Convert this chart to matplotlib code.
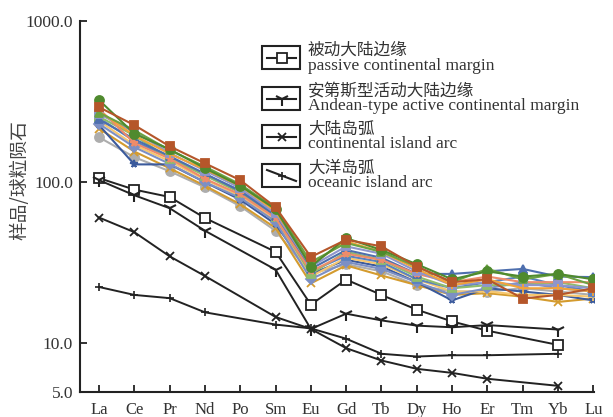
import numpy as np
import matplotlib
matplotlib.use("Agg")
import matplotlib.pyplot as plt
from matplotlib.patches import Rectangle
from matplotlib.lines import Line2D

plt.rcParams['font.family'] = ['Liberation Serif', 'Noto Sans CJK SC']

# 稀土元素 (球粒陨石标准化)
elements = ["La", "Ce", "Pr", "Nd", "Po", "Sm", "Eu", "Gd", "Tb", "Dy", "Ho", "Er", "Tm", "Yb", "Lu"]

# 样品数据
s1 = [292, 226, 167, 131, 103, 70, 34.4, 44, 40, 30, 24, 25, 19, 20, 22]
s2 = [323, 200, 160, 122, 95, 68, 30, 45, 38, 31, 25, 28, 26, 27, 25]
s3 = [245, 185, 145, 113, 88, 62, 29, 38, 34, 27, 27, 28, 29, 26, 25.8]
s4 = [265, 205, 152, 118, 92, 64, 30, 40, 36, 28, 23, 24, 23, 23, 22]
s5 = [275, 195, 150, 120, 95, 66, 31, 43, 37, 29, 23, 25, 22, 22, 21]
s6 = [285, 175, 140, 105, 84, 60, 28, 36, 33, 27, 24, 26, 24, 24, 24]
s7 = [255, 195, 140, 110, 86, 61, 27, 37, 33, 26, 22, 23, 23, 24, 22]
s8 = [190, 143, 117, 93, 71, 50, 27, 31, 28, 23, 21, 21, 22, 21, 20]
s9 = [215, 155, 122, 95, 73, 52, 23.6, 30.5, 26.4, 23, 20, 20.5, 19.5, 18.1, 19]
s10 = [226, 129, 129, 100, 78, 55, 27, 33, 30, 24, 18.5, 22, 21, 20, 18.5]
s11 = [240, 170, 135, 104, 82, 58, 26, 34, 31, 25, 21, 21, 20, 20, 19.5]
s12 = [230, 165, 130, 100, 80, 57, 25, 32, 29, 24, 20, 22, 24, 22, 21]
s13 = [270, 210, 158, 125, 97, 69, 32, 42, 37, 30, 24, 29, 25, 27, 23]
s14 = [250, 180, 142, 112, 89, 63, 28, 35, 32, 25, 22, 24, 26, 23, 21]

samples = [s8, s9, s10, s11, s12, s14, s7, s3, s6, s4, s5, s13, s2, s1]
sample_colors = ["#ADADAD", "#D49B2E", "#3B5A9C", "#F7C76E", "#7C8FC4", "#5B82C0", "#8FBC6C",
                 "#4E6FAE", "#EE8C6A", "#8E95CC", "#F2A33A", "#6CA243", "#4F8A2E", "#B5562A"]
sample_markers = ["o", "x", "*", "+", "D", "s", "s", "^", "*", "s", "+", "^", "o", "s"]

# 构造背景参考曲线 (Po、Tm 无数据)
nan = np.nan
passive = [106, 90, 81, 60, nan, 37, 17.4, 24.9, 20, 16.2, 13.7, 12.0, nan, 9.8, nan]
andean = [103, 83, 69, 50, nan, 28.7, 12.3, 15.3, 13.9, 12.9, 12.6, 13.0, nan, 12.2, nan]
cont_arc = [60.4, 49, 34.7, 26.2, nan, 14.6, 12.3, 9.35, 7.84, 6.96, 6.57, 6.04, nan, 5.46, nan]
ocean_arc = [22.4, 20, 19.1, 15.6, nan, 13.1, 12.4, 10.7, 8.63, 8.3, 8.45, 8.45, nan, 8.63, nan]

legend_cn = ["被动大陆边缘", "安第斯型活动大陆边缘", "大陆岛弧", "大洋岛弧"]
legend_en = ["passive continental margin", "Andean-type active continental margin",
             "continental island arc", "oceanic island arc"]

fig = plt.figure(figsize=(6.13, 4.17), dpi=100)
ax = fig.add_axes([80 / 613, 1 - 392 / 417, 514 / 613, 371 / 417])

x = np.arange(len(elements))

for vals, c, m in zip(samples, sample_colors, sample_markers):
    ms = 6.5 if m == "o" else 5.5
    ax.plot(x, vals, color=c, lw=1.5, marker=m, ms=ms, mfc=c, mec=c, mew=1.3)

ref_styles = [
    (passive, dict(marker="s", ms=6.5, mfc="white", mec="#222222", mew=1.3)),
    (andean, dict(marker="1", ms=10, mec="#222222", mew=1.5)),
    (cont_arc, dict(marker="x", ms=6, mec="#222222", mew=1.3)),
    (ocean_arc, dict(marker="+", ms=6, mec="#222222", mew=1.2)),
]
for vals, st in ref_styles:
    vals = np.array(vals, dtype=float)
    ok = ~np.isnan(vals)
    ax.plot(x[ok], vals[ok], color="#222222", lw=1.4, **st)

ax.set_yscale("log")
ax.set_ylim(5, 1000)
ax.set_xlim(-0.54, 14.02)
ax.set_yticks([5, 10, 100, 1000])
ax.set_yticklabels(["5.0", "10.0", "100.0", "1000.0"])
ax.yaxis.set_minor_locator(matplotlib.ticker.NullLocator())
ax.set_xticks(x)
ax.set_xticklabels(elements)
ax.tick_params(direction="in", length=5, width=1.3, colors="#222222", labelsize=12.5, labelcolor="#333333")
ax.tick_params(axis="x", pad=7, labelsize=12)
ax.tick_params(axis="y", pad=5)
for side in ["top", "right"]:
    ax.spines[side].set_visible(False)
for side in ["left", "bottom"]:
    ax.spines[side].set_linewidth(1.5)
    ax.spines[side].set_color("#222222")

fig.text(20 / 613, 1 - 180 / 417, "样品/球粒陨石", rotation=90, ha="center", va="center",
         fontsize=13.5, color="#444444", family=["Noto Sans CJK SC"], fontweight="light")

# 图例: 方框 + 线型样式 + 中英文说明
W, H = 613.0, 417.0
tops = [46, 87, 125, 164]
for i, top in enumerate(tops):
    fig.patches.append(Rectangle((262 / W, 1 - (top + 23) / H), 38 / W, 23 / H,
                                 transform=fig.transFigure, fill=False, lw=1.5,
                                 ec="#222222", figure=fig))
    yc = 1 - (top + 11.5) / H
    if i == 3:
        xs = [267 / W, 296 / W]
        ys = [1 - (top + 6) / H, 1 - (top + 17) / H]
        fig.lines.append(Line2D(xs, ys, transform=fig.transFigure, color="#222222", lw=1.5))
        fig.lines.append(Line2D([281.5 / W], [yc], transform=fig.transFigure, marker="+",
                                ms=6, mec="#222222", mew=1.2, ls="none"))
    else:
        st = ref_styles[i][1]
        fig.lines.append(Line2D([267 / W, 296 / W], [yc, yc], transform=fig.transFigure,
                                color="#222222", lw=1.5))
        fig.lines.append(Line2D([281.5 / W], [yc], transform=fig.transFigure, ls="none", **st))
    fig.text(308 / W, 1 - (top + 4.5) / H, legend_cn[i], ha="left", va="center",
             fontsize=12, color="#333333", family=["Noto Sans CJK SC"], fontweight="light")
    fig.text(308 / W, 1 - (top + 19.5) / H, legend_en[i], ha="left", va="center",
             fontsize=12.5, color="#333333")

fig.savefig("out.png", dpi=100)
